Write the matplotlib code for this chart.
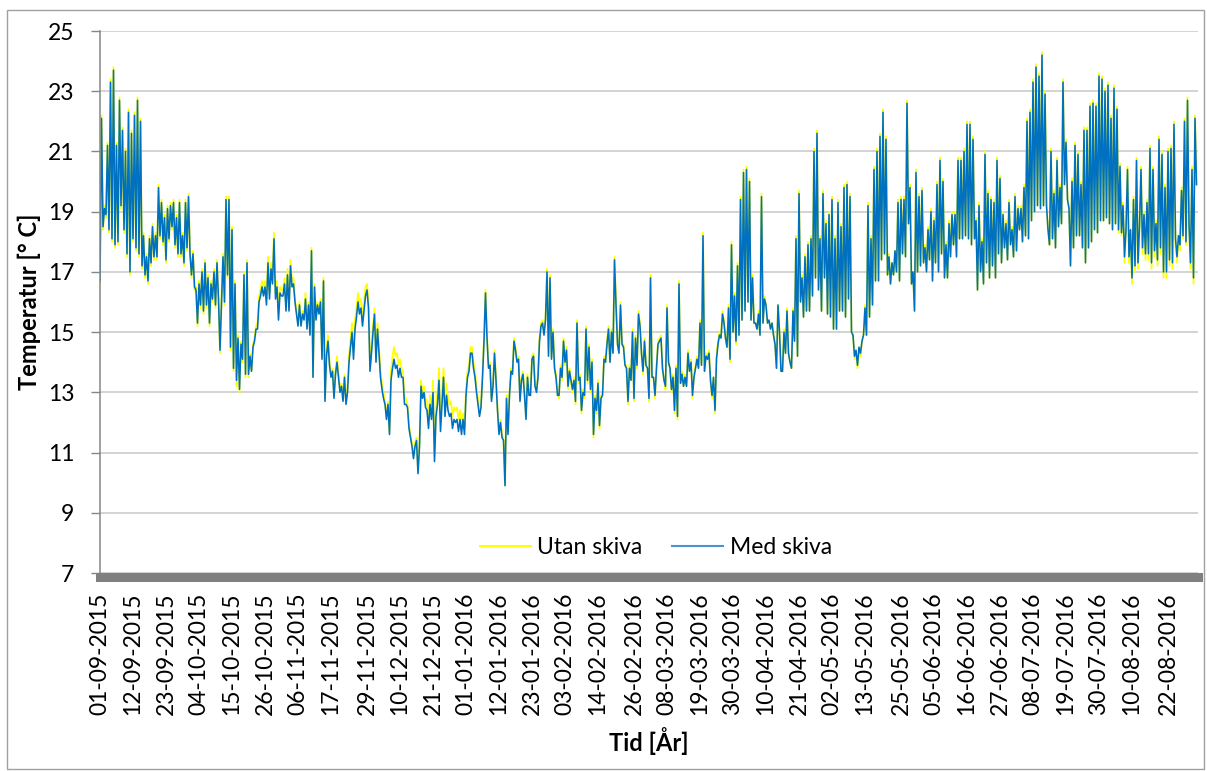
import matplotlib.pyplot as plt
import numpy as np
import pandas as pd
from matplotlib.lines import Line2D
from matplotlib.patches import Rectangle

plt.rcParams['font.family'] = ['Lato', 'DejaVu Sans']

# Temperatur, två avläsningar per dygn (sep 2015 - aug 2016)
med_sep = [16.7, 22.1, 18.5, 19.1, 18.9, 21.2, 18.4, 23.3, 18.1, 23.7,
           17.9, 21.2, 18.0, 22.7, 19.2, 21.7, 18.4, 21.0, 17.6, 22.3,
           17.0, 21.6, 18.1, 22.2, 17.8, 22.7, 17.6, 22.0, 17.2, 18.2,
           16.9, 17.5, 16.7, 18.1, 17.3, 18.5, 17.5, 18.2, 17.5, 19.8,
           18.2, 19.3, 18.0, 18.8, 17.4, 19.1, 18.1, 19.2, 18.5, 19.3,
           17.9, 18.8, 17.6, 19.3, 17.6, 18.2, 17.3, 19.3, 17.8, 19.5]
med_oct = [17.6, 16.9, 17.6, 16.5, 16.4, 15.3, 16.6, 15.9, 17.0, 15.7,
           17.3, 15.9, 16.8, 15.3, 16.6, 16.1, 17.0, 15.9, 17.3, 16.1,
           14.4, 16.0, 17.5, 16.0, 19.4, 16.9, 19.4, 14.5, 18.4, 13.8,
           16.6, 13.4, 14.8, 13.1, 14.6, 14.1, 16.9, 13.6, 17.3, 13.6,
           14.2, 13.7, 14.5, 14.7, 15.1, 15.1, 16.0, 16.2, 16.5, 16.2,
           16.5, 15.9, 17.3, 16.1, 17.1, 16.6, 18.1, 16.1, 16.5, 15.4,
           16.3, 16.2]
med_nov = [16.2, 16.6, 15.7, 16.9, 15.7, 17.2, 16.5, 16.6, 16.0, 15.6,
           15.2, 15.9, 15.2, 15.6, 15.4, 16.1, 15.1, 15.9, 14.9, 17.7,
           13.5, 16.5, 15.4, 15.9, 15.6, 16.0, 14.1, 16.7, 12.7, 14.2,
           14.7, 13.9, 13.5, 13.7, 12.8, 13.6, 14.0, 13.5, 13.0, 13.2,
           12.7, 13.5, 12.6, 13.0, 14.0, 14.5, 15.0, 14.1, 15.1, 15.5,
           16.0, 15.6, 15.8, 15.2, 15.7, 16.2, 16.4, 15.8, 13.7, 14.3]
med_dec = [15.0, 15.6, 14.0, 15.1, 14.3, 13.5, 13.1, 12.8, 12.6, 12.1,
           12.6, 11.6, 13.4, 13.8, 14.1, 13.8, 13.9, 13.5, 13.8, 13.5,
           13.5, 12.6, 12.6, 12.5, 11.8, 11.5, 11.2, 10.8, 11.2, 11.4,
           10.3, 11.2, 13.2, 12.8, 13.0, 12.5, 12.4, 11.8, 12.6, 12.1,
           13.0, 10.7, 12.2, 12.6, 13.4, 11.7, 12.6, 13.5, 12.2, 12.9,
           12.4, 12.2, 12.3, 11.8, 12.1, 12.0, 12.1, 11.7, 12.1, 11.6,
           12.1, 11.6]
med_jan = [12.9, 13.5, 13.7, 14.3, 14.3, 13.8, 13.5, 13.0, 12.6, 12.2,
           12.5, 13.5, 14.7, 16.3, 14.8, 13.8, 13.9, 12.7, 13.2, 14.3,
           13.4, 12.4, 11.6, 12.0, 11.5, 11.4, 9.9, 12.8, 11.6, 12.9,
           13.7, 13.6, 14.7, 14.4, 14.0, 14.1, 12.7, 13.4, 13.6, 12.9,
           12.1, 13.5, 12.9, 12.9, 14.1, 14.2, 13.2, 13.0, 13.5, 14.7,
           15.2, 15.3, 14.9, 15.4, 17.0, 14.2, 16.8, 14.1, 15.0, 13.8,
           13.5, 12.9]
med_feb = [12.9, 13.8, 13.5, 14.7, 14.0, 14.4, 13.2, 13.7, 13.4, 13.1,
           13.4, 12.7, 15.3, 13.4, 13.5, 12.4, 13.0, 12.9, 15.1, 13.4,
           14.5, 13.1, 14.0, 11.6, 12.8, 12.4, 13.3, 11.9, 12.8, 12.9,
           14.1, 14.0, 14.6, 15.1, 14.0, 15.0, 14.3, 17.4, 15.9, 14.6,
           14.3, 15.9, 14.6, 14.5, 13.9, 13.8, 12.7, 13.8, 13.4, 15.0,
           12.8, 14.8, 13.9, 15.6, 15.2, 14.3, 13.7, 14.7]
med_mar = [13.9, 13.8, 12.8, 16.8, 13.5, 13.5, 12.9, 13.8, 14.6, 14.7,
           14.8, 13.8, 13.4, 13.2, 15.8, 14.0, 13.8, 13.1, 13.5, 12.4,
           13.8, 12.2, 16.6, 13.3, 13.6, 13.2, 13.5, 13.2, 14.3, 13.7,
           14.0, 12.9, 13.5, 13.8, 14.1, 13.8, 15.3, 13.9, 18.2, 13.7,
           14.2, 14.1, 14.3, 13.4, 12.9, 13.5, 12.4, 14.1, 14.6, 14.9,
           14.8, 15.6, 15.3, 14.8, 14.5, 15.8, 14.1, 17.9, 15.0, 16.2,
           14.7, 17.2]
med_apr = [14.9, 19.4, 15.4, 20.3, 15.7, 20.4, 16.0, 20.0, 15.4, 16.8,
           15.3, 15.3, 15.1, 15.6, 14.9, 19.5, 15.3, 16.1, 15.9, 15.3,
           15.4, 15.1, 15.3, 14.9, 14.6, 13.8, 15.9, 15.0, 13.7, 13.7,
           15.0, 14.3, 15.7, 14.3, 14.0, 13.8, 15.7, 14.7, 18.1, 14.2,
           19.6, 16.0, 16.8, 15.5, 17.5, 15.7, 17.9, 15.7, 18.1, 16.2,
           21.0, 16.8, 21.6, 16.4, 18.1, 15.7, 19.6, 16.8, 18.6, 15.6]
med_may = [18.9, 15.5, 19.4, 15.1, 18.1, 15.1, 19.3, 15.7, 18.5, 15.7,
           19.8, 15.5, 19.9, 16.1, 19.5, 15.0, 14.9, 14.2, 14.4, 13.9,
           14.5, 14.3, 14.7, 14.9, 15.8, 14.9, 19.2, 15.5, 18.1, 15.9,
           20.4, 16.7, 21.0, 16.7, 21.5, 17.4, 22.3, 17.6, 21.4, 16.9,
           17.5, 16.6, 17.3, 16.9, 17.7, 17.0, 19.3, 16.7, 19.4, 17.6,
           19.4, 17.5, 22.6, 18.6, 19.8, 16.6, 17.0, 15.7, 20.3, 17.0,
           19.5, 17.2]
med_jun = [19.7, 17.3, 17.8, 17.0, 18.4, 17.4, 19.0, 16.7, 18.7, 17.3,
           19.9, 17.0, 20.7, 17.6, 20.0, 16.8, 17.9, 16.8, 18.6, 17.5,
           18.9, 17.9, 18.9, 17.5, 20.7, 18.1, 20.7, 18.1, 21.0, 18.2,
           21.9, 18.1, 21.9, 17.9, 21.4, 18.1, 18.7, 16.4, 19.2, 17.0,
           18.0, 16.6, 20.9, 17.3, 19.6, 16.8, 19.4, 17.2, 19.3, 16.8,
           20.7, 17.6, 20.1, 17.3, 18.9, 17.8, 18.6, 17.4, 19.3, 17.9]
med_jul = [18.4, 17.5, 19.5, 17.7, 19.1, 18.4, 19.1, 18.0, 19.8, 18.2,
           22.0, 18.1, 22.3, 18.7, 23.3, 19.0, 23.8, 19.2, 23.5, 19.1,
           24.2, 19.2, 22.9, 19.2, 18.4, 17.9, 21.0, 18.1, 19.6, 17.8,
           20.7, 18.5, 19.8, 18.6, 23.3, 19.9, 21.3, 19.4, 19.1, 17.2,
           20.0, 17.8, 21.2, 18.2, 20.9, 18.2, 19.9, 17.8, 21.7, 17.3,
           21.7, 17.8, 22.5, 18.0, 22.6, 18.4, 22.5, 18.3, 23.5, 18.7,
           23.4, 18.7]
med_aug = [23.0, 18.8, 23.2, 18.6, 22.1, 18.4, 23.1, 18.6, 22.4, 18.4,
           20.5, 18.3, 19.2, 17.5, 18.4, 20.4, 17.5, 18.4, 16.8, 19.4,
           17.2, 20.7, 17.3, 18.5, 20.4, 17.8, 18.9, 17.6, 19.3, 17.6,
           21.1, 17.3, 20.4, 17.7, 18.6, 17.4, 21.4, 17.8, 20.9, 17.0,
           19.8, 17.0, 21.0, 17.4, 21.1, 17.3, 21.9, 18.1, 17.5, 18.2,
           17.9, 19.7, 18.2, 22.0, 18.0, 22.7, 18.6, 17.3, 20.4, 16.8,
           22.1, 19.9]

utan_sep = [16.6, 22.2, 18.4, 19.2, 18.8, 21.3, 18.3, 23.4, 18.0, 23.8,
            17.8, 21.3, 17.9, 22.8, 19.1, 21.8, 18.3, 21.1, 17.5, 22.4,
            16.9, 21.7, 18.0, 22.3, 17.7, 22.8, 17.5, 22.1, 17.1, 18.3,
            16.8, 17.6, 16.6, 18.2, 17.2, 18.6, 17.4, 18.3, 17.4, 19.9,
            18.1, 19.4, 17.9, 18.9, 17.3, 19.2, 18.0, 19.3, 18.4, 19.4,
            17.8, 18.9, 17.5, 19.4, 17.5, 18.3, 17.2, 19.4, 17.7, 19.6]
utan_oct = [17.7, 16.8, 17.7, 16.4, 16.5, 15.2, 16.7, 15.8, 17.1, 15.6,
            17.4, 15.8, 16.9, 15.2, 16.7, 16.0, 17.1, 15.8, 17.4, 16.0,
            14.3, 16.1, 17.6, 15.9, 19.5, 16.8, 19.5, 14.4, 18.5, 13.7,
            16.7, 13.2, 14.9, 13.0, 14.7, 14.0, 17.0, 13.5, 17.4, 13.5,
            14.3, 13.7, 14.6, 14.8, 15.2, 15.3, 16.2, 16.4, 16.7, 16.4,
            16.7, 16.1, 17.5, 16.3, 17.3, 16.8, 18.3, 16.3, 16.7, 15.6,
            16.5, 16.4]
utan_nov = [16.4, 16.8, 15.9, 17.1, 15.8, 17.4, 16.7, 16.8, 16.1, 15.7,
            15.3, 16.0, 15.3, 15.7, 15.5, 16.3, 15.2, 16.0, 15.0, 17.8,
            13.5, 16.6, 15.5, 16.0, 15.7, 16.1, 14.2, 16.8, 12.8, 14.4,
            14.9, 14.0, 13.6, 13.8, 12.9, 13.7, 14.2, 13.6, 13.1, 13.3,
            12.8, 13.6, 12.7, 13.1, 14.2, 14.8, 15.3, 14.4, 15.4, 15.8,
            16.3, 15.9, 16.1, 15.5, 16.0, 16.5, 16.6, 16.0, 13.9, 14.5]
utan_dec = [15.2, 15.8, 14.2, 15.3, 14.5, 13.7, 13.3, 13.0, 12.7, 12.2,
            12.7, 11.7, 13.7, 14.2, 14.5, 14.2, 14.3, 13.9, 14.1, 13.8,
            13.7, 12.8, 12.8, 12.6, 11.9, 11.6, 11.3, 10.9, 11.3, 11.5,
            10.4, 11.3, 13.4, 13.0, 13.2, 12.8, 12.7, 12.1, 12.9, 12.4,
            13.4, 10.9, 12.5, 13.0, 13.8, 12.0, 13.0, 13.8, 12.6, 13.3,
            12.8, 12.6, 12.7, 12.2, 12.5, 12.4, 12.5, 12.1, 12.4, 11.9,
            12.3, 11.8]
utan_jan = [13.1, 13.7, 13.9, 14.5, 14.5, 14.0, 13.7, 13.2, 12.8, 12.4,
            12.6, 13.6, 14.8, 16.4, 14.9, 13.9, 14.0, 12.8, 13.3, 14.4,
            13.5, 12.5, 11.7, 12.1, 11.6, 11.5, 9.9, 12.9, 11.7, 13.0,
            13.8, 13.7, 14.8, 14.5, 14.1, 14.2, 12.8, 13.5, 13.7, 13.0,
            12.2, 13.6, 13.0, 13.0, 14.2, 14.3, 13.3, 13.1, 13.6, 14.8,
            15.3, 15.4, 15.0, 15.5, 17.1, 14.3, 16.9, 14.2, 15.1, 13.9,
            13.6, 13.0]
utan_feb = [12.8, 13.9, 13.4, 14.8, 13.9, 14.5, 13.1, 13.8, 13.3, 13.0,
            13.5, 12.6, 15.4, 13.3, 13.6, 12.3, 13.1, 12.8, 15.2, 13.3,
            14.6, 13.0, 14.1, 11.5, 12.9, 12.3, 13.4, 11.8, 12.9, 12.9,
            14.2, 14.0, 14.7, 15.2, 14.0, 15.1, 14.3, 17.5, 16.0, 14.6,
            14.3, 16.0, 14.6, 14.6, 13.9, 13.9, 12.6, 13.9, 13.4, 15.1,
            12.7, 14.9, 13.8, 15.7, 15.3, 14.3, 13.6, 14.8]
utan_mar = [13.9, 13.8, 12.7, 16.9, 13.5, 13.5, 12.8, 13.9, 14.7, 14.8,
            14.9, 13.8, 13.4, 13.1, 15.9, 14.0, 13.8, 13.0, 13.6, 12.3,
            13.9, 12.1, 16.7, 13.3, 13.7, 13.2, 13.6, 13.2, 14.4, 13.7,
            14.1, 12.8, 13.6, 13.9, 14.2, 13.8, 15.4, 13.9, 18.3, 13.7,
            14.3, 14.1, 14.4, 13.4, 12.8, 13.5, 12.3, 14.2, 14.7, 15.0,
            14.9, 15.7, 15.4, 14.8, 14.5, 15.9, 14.0, 18.0, 15.0, 16.3,
            14.6, 17.3]
utan_apr = [14.9, 19.5, 15.4, 20.4, 15.7, 20.5, 16.0, 20.1, 15.4, 16.9,
            15.3, 15.3, 15.1, 15.7, 14.9, 19.6, 15.3, 16.2, 15.9, 15.3,
            15.4, 15.1, 15.3, 14.9, 14.6, 13.8, 15.9, 15.0, 13.7, 13.7,
            15.1, 14.3, 15.8, 14.3, 14.0, 13.8, 15.8, 14.7, 18.2, 14.2,
            19.7, 16.0, 16.9, 15.5, 17.6, 15.7, 18.0, 15.7, 18.2, 16.2,
            21.1, 16.8, 21.7, 16.4, 18.2, 15.7, 19.7, 16.8, 18.7, 15.6]
utan_may = [19.0, 15.5, 19.5, 15.1, 18.2, 15.1, 19.4, 15.7, 18.6, 15.7,
            19.9, 15.5, 20.0, 16.1, 19.6, 15.0, 14.9, 14.1, 14.3, 13.8,
            14.4, 14.2, 14.7, 14.9, 15.9, 14.9, 19.3, 15.5, 18.2, 15.9,
            20.5, 16.7, 21.1, 16.7, 21.6, 17.4, 22.4, 17.6, 21.5, 16.9,
            17.6, 16.6, 17.3, 16.9, 17.7, 17.0, 19.4, 16.7, 19.5, 17.6,
            19.5, 17.5, 22.7, 18.6, 19.9, 16.6, 17.0, 15.7, 20.4, 17.0,
            19.6, 17.2]
utan_jun = [19.8, 17.3, 17.9, 17.0, 18.5, 17.4, 19.1, 16.7, 18.8, 17.3,
            20.0, 17.0, 20.8, 17.6, 20.1, 16.8, 18.0, 16.8, 18.7, 17.5,
            19.0, 17.9, 19.0, 17.5, 20.8, 18.1, 20.8, 18.1, 21.1, 18.2,
            22.0, 18.1, 22.0, 17.9, 21.5, 18.1, 18.8, 16.4, 19.3, 17.0,
            18.1, 16.6, 21.0, 17.3, 19.7, 16.8, 19.5, 17.2, 19.4, 16.8,
            20.8, 17.6, 20.2, 17.3, 19.0, 17.8, 18.7, 17.4, 19.4, 17.9]
utan_jul = [18.5, 17.5, 19.6, 17.7, 19.2, 18.4, 19.2, 18.0, 19.9, 18.2,
            22.1, 18.1, 22.4, 18.7, 23.4, 19.0, 23.9, 19.2, 23.6, 19.1,
            24.3, 19.2, 23.0, 19.2, 18.5, 17.9, 21.1, 18.1, 19.7, 17.8,
            20.8, 18.5, 19.9, 18.6, 23.4, 19.9, 21.4, 19.4, 19.2, 17.2,
            20.1, 17.8, 21.3, 18.2, 21.0, 18.2, 20.0, 17.8, 21.8, 17.3,
            21.8, 17.8, 22.6, 18.0, 22.7, 18.4, 22.6, 18.3, 23.6, 18.7,
            23.5, 18.7]
utan_aug = [23.1, 18.8, 23.3, 18.6, 22.2, 18.4, 23.2, 18.6, 22.5, 18.3,
            20.6, 18.2, 19.3, 17.3, 18.4, 20.5, 17.3, 18.4, 16.6, 19.5,
            17.0, 20.8, 17.1, 18.5, 20.5, 17.6, 19.0, 17.4, 19.4, 17.4,
            21.2, 17.1, 20.5, 17.5, 18.7, 17.2, 21.5, 17.6, 21.0, 16.8,
            19.9, 16.8, 21.1, 17.2, 21.2, 17.1, 22.0, 17.9, 17.3, 18.2,
            17.7, 19.8, 18.1, 22.1, 17.9, 22.8, 18.6, 17.1, 20.5, 16.6,
            22.2, 19.9]

tick_labels = ["01-09-2015", "12-09-2015", "23-09-2015", "04-10-2015",
               "15-10-2015", "26-10-2015", "06-11-2015", "17-11-2015",
               "29-11-2015", "10-12-2015", "21-12-2015", "01-01-2016",
               "12-01-2016", "23-01-2016", "03-02-2016", "14-02-2016",
               "26-02-2016", "08-03-2016", "19-03-2016", "30-03-2016",
               "10-04-2016", "21-04-2016", "02-05-2016", "13-05-2016",
               "25-05-2016", "05-06-2016", "16-06-2016", "27-06-2016",
               "08-07-2016", "19-07-2016", "30-07-2016", "10-08-2016",
               "22-08-2016"]

start = pd.Timestamp("2015-09-01")
month_starts = pd.date_range(start, periods=13, freq="MS")


def to_series(months):
    # lägger ut varje månads värden jämnt över månadens dagar
    t, v = [], []
    for i, vals in enumerate(months):
        d0 = (month_starts[i] - start).days
        d1 = (month_starts[i + 1] - start).days
        t.extend(d0 + np.arange(len(vals)) * (d1 - d0) / len(vals))
        v.extend(vals)
    return np.array(t), np.array(v)


t_med, v_med = to_series([med_sep, med_oct, med_nov, med_dec, med_jan, med_feb,
                          med_mar, med_apr, med_may, med_jun, med_jul, med_aug])
t_utan, v_utan = to_series([utan_sep, utan_oct, utan_nov, utan_dec, utan_jan, utan_feb,
                            utan_mar, utan_apr, utan_may, utan_jun, utan_jul, utan_aug])

tick_pos = [(d - start).days for d in pd.to_datetime(tick_labels, format="%d-%m-%Y")]

W, H = 1207, 771
fig = plt.figure(figsize=(W / 100, H / 100), dpi=100)
ax = fig.add_axes([100 / W, 1 - 573 / H, 1098 / W, 542 / H])

ax.plot(t_utan, v_utan, color="#FFFF00", lw=1.3)
ax.plot(t_med, v_med, color="#0070C0", lw=1.15)

ax.set_xlim(0, 366)
ax.set_ylim(7, 25)
ax.set_yticks(range(7, 26, 2))
ax.yaxis.grid(True, color="#C8C8C8", lw=1.1)
ax.set_axisbelow(True)

ax.set_xticks(tick_pos)
ax.set_xticklabels(tick_labels)

for s in ["top", "right"]:
    ax.spines[s].set_visible(False)
ax.spines["left"].set_color("#868686")
ax.spines["left"].set_linewidth(1.1)
ax.spines["bottom"].set_color("#808080")
ax.spines["bottom"].set_linewidth(6.5)
ax.spines["bottom"].set_position(("outward", 3))

ax.tick_params(axis="y", length=6.5, width=1, color="#868686", labelsize=16.5, pad=12)
ax.tick_params(axis="x", length=0, labelsize=16.5, pad=11, labelrotation=90)
for lab in ax.get_xticklabels():
    lab.set_va("top")
    lab.set_ha("center")

fig.text(29 / W, 1 - 302 / H, "Temperatur [° C]", rotation=90, ha="center", va="center",
         fontsize=17, fontweight="bold")
fig.text(649 / W, 1 - 741 / H, "Tid [År]", ha="center", va="center",
         fontsize=17, fontweight="bold")

handles = [Line2D([], [], color="#FFFF00", lw=1.5), Line2D([], [], color="#4A92D2", lw=1.5)]
fig.legend(handles, ["Utan skiva", "Med skiva"], loc="center",
           bbox_to_anchor=(656 / W, 1 - 548 / H), ncol=2, frameon=False, fontsize=16.5,
           handlelength=2.2, handletextpad=0.3, columnspacing=1.3)

fig.patches.append(Rectangle((7 / W, 2 / H), 1197 / W, 759 / H, transform=fig.transFigure,
                             fill=False, edgecolor="#A0A0A0", lw=1))

fig.savefig("out.png", dpi=100)
